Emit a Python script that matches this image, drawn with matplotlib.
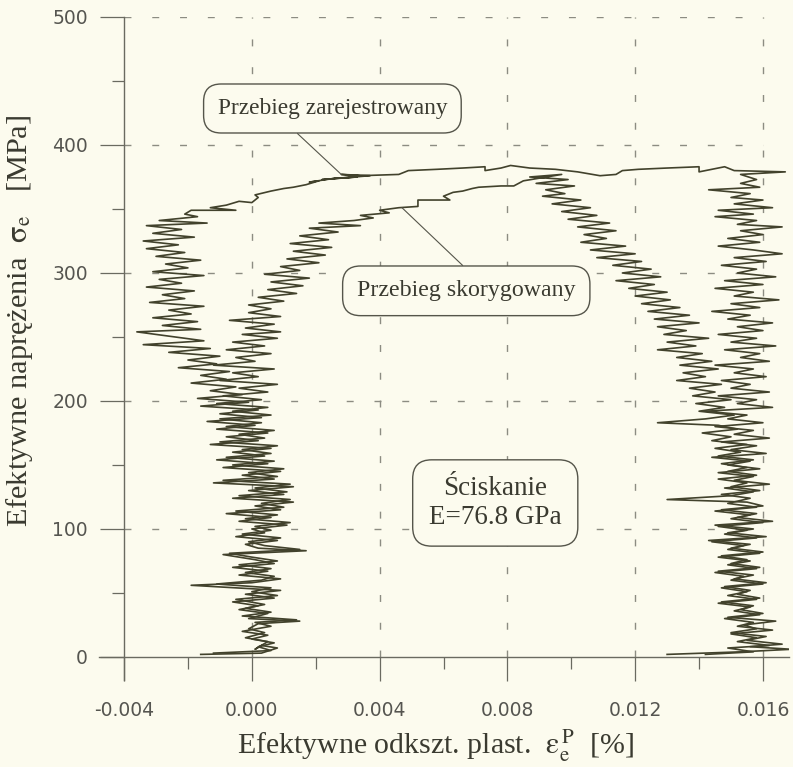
import matplotlib
matplotlib.use("Agg")
import matplotlib.pyplot as plt
from matplotlib.ticker import MultipleLocator, FixedLocator

# --- data (strain x, stress y in MPa) ---
# recorded curve: loading branch
rec_load_x = [-0.0016, 0.0003, 0.0008, 0.0003, 0.0001, 0.0005, -0.0002, 0.0004, -0.0001, 0.0002,
              0.0015, -0.0001, 0.0005, -0.0004, 0.0002, -0.0006, 0.0007, -0.0002, 0.0009, -0.0019,
              0.0000, 0.0009, -0.0004, 0.0005, -0.0006, 0.0007, 0.0001, -0.0009, 0.0017, 0.0002,
              -0.0002, 0.0008, -0.0005, 0.0004, 0.0000, 0.0011, -0.0004, 0.0006, -0.0008, 0.0009,
              0.0001, 0.0013, -0.0006, 0.0010, -0.0001, 0.0013, -0.0012, 0.0007, -0.0003, 0.0009,
              -0.0009, 0.0005, -0.0011, 0.0004, -0.0006, 0.0006, -0.0013, 0.0002, -0.0008, 0.0005,
              -0.0011, 0.0001, -0.0014, 0.0003, -0.0010, 0.0002, -0.0016, -0.0001, -0.0017, -0.0003,
              -0.0013, -0.0005, -0.0019, -0.0008, -0.0016, -0.0007, -0.0023, -0.0011, -0.0020, -0.0010,
              -0.0026, -0.0013, -0.0034, -0.0015, -0.0024, -0.0036, -0.0016, -0.0028, -0.0017, -0.0031,
              -0.0019, -0.0026, -0.0015, -0.0032, -0.0021, -0.0028, -0.0018, -0.0033, -0.0022, -0.0029,
              -0.0015, -0.0031, -0.0020, -0.0027, -0.0016, -0.0030, -0.0021, -0.0033, -0.0023, -0.0034,
              -0.0018, -0.0031, -0.0022, -0.0033, -0.0014, -0.0029, -0.0017, -0.0021, -0.0019, -0.0005,
              -0.0013, -0.0008, -0.0004, 0.0000, 0.0002, 0.0001, 0.0006, 0.0010, 0.0013, 0.0017,
              0.0021, 0.0018, 0.0026, 0.0033, 0.0022, 0.0037, 0.0028]
rec_load_y = [2, 3, 7, 9, 6, 12, 15, 19, 22, 26,
              28, 30, 34, 37, 40, 43, 46, 49, 52, 56,
              58, 61, 64, 67, 70, 73, 76, 80, 83, 85,
              88, 91, 94, 97, 100, 103, 106, 109, 112, 115,
              118, 121, 124, 127, 130, 133, 136, 139, 142, 145,
              148, 151, 154, 157, 160, 163, 166, 169, 172, 175,
              178, 181, 184, 187, 190, 193, 196, 199, 202, 205,
              208, 211, 214, 217, 220, 223, 226, 229, 232, 235,
              238, 241, 244, 247, 250, 254, 256, 259, 262, 265,
              268, 271, 274, 277, 280, 283, 286, 289, 292, 295,
              298, 301, 304, 307, 310, 313, 316, 319, 322, 325,
              328, 331, 334, 337, 339, 341, 344, 346, 349, 349,
              351, 353, 356, 355, 359, 361, 364, 366, 367, 369,
              372, 371, 374, 375, 373, 376, 377]

# recorded curve: upper plateau
rec_top_x = [0.0034, 0.0046, 0.0049, 0.0058, 0.0066, 0.0073, 0.0073, 0.0078, 0.0081, 0.0087,
             0.0095, 0.0102, 0.0109, 0.0114, 0.0116, 0.0121, 0.0130, 0.0140, 0.0140, 0.0148,
             0.0151, 0.0167, 0.0153]
rec_top_y = [376, 377, 380, 381, 382, 383, 380, 382, 384, 382,
             381, 379, 376, 377, 380, 381, 382, 383, 379, 383,
             380, 379, 377]

# recorded curve: unloading branch
rec_unl_x = [0.0158, 0.0153, 0.0159, 0.0143, 0.0156, 0.0150, 0.0160, 0.0151, 0.0163, 0.0146,
             0.0157, 0.0145, 0.0158, 0.0152, 0.0166, 0.0153, 0.0160, 0.0149, 0.0159, 0.0146,
             0.0157, 0.0166, 0.0151, 0.0161, 0.0147, 0.0158, 0.0152, 0.0164, 0.0148, 0.0160,
             0.0145, 0.0157, 0.0151, 0.0165, 0.0150, 0.0159, 0.0144, 0.0156, 0.0149, 0.0163,
             0.0152, 0.0160, 0.0146, 0.0158, 0.0150, 0.0164, 0.0148, 0.0159, 0.0153, 0.0162,
             0.0145, 0.0157, 0.0151, 0.0161, 0.0147, 0.0156, 0.0150, 0.0162, 0.0146, 0.0158,
             0.0152, 0.0163, 0.0142, 0.0155, 0.0149, 0.0160, 0.0145, 0.0157, 0.0151, 0.0162,
             0.0147, 0.0158, 0.0150, 0.0161, 0.0144, 0.0156, 0.0149, 0.0159, 0.0146, 0.0157,
             0.0151, 0.0162, 0.0148, 0.0157, 0.0150, 0.0130, 0.0155, 0.0160, 0.0147, 0.0158,
             0.0152, 0.0163, 0.0145, 0.0157, 0.0149, 0.0161, 0.0143, 0.0156, 0.0150, 0.0160,
             0.0147, 0.0155, 0.0150, 0.0159, 0.0146, 0.0157, 0.0151, 0.0161, 0.0148, 0.0156,
             0.0152, 0.0159, 0.0147, 0.0157, 0.0153, 0.0160, 0.0149, 0.0164, 0.0154, 0.0158,
             0.0150, 0.0161, 0.0155, 0.0166, 0.0156, 0.0169, 0.0153, 0.0130]
rec_unl_y = [373, 370, 367, 365, 362, 359, 357, 354, 351, 349,
             346, 344, 341, 338, 336, 333, 330, 327, 324, 321,
             318, 315, 312, 309, 306, 303, 300, 297, 294, 291,
             288, 285, 282, 279, 276, 273, 270, 267, 264, 261,
             258, 255, 252, 249, 246, 243, 240, 237, 234, 231,
             228, 225, 222, 219, 216, 213, 210, 207, 204, 201,
             198, 195, 192, 189, 186, 183, 180, 177, 174, 171,
             168, 165, 162, 159, 156, 153, 150, 147, 144, 141,
             138, 135, 132, 129, 126, 123, 121, 118, 115, 112,
             109, 106, 103, 100, 97, 94, 91, 88, 85, 82,
             79, 76, 73, 70, 67, 64, 61, 58, 55, 52,
             49, 46, 43, 40, 37, 34, 31, 28, 25, 22,
             19, 16, 13, 10, 8, 6, 4, 2]

# corrected curve: loading branch
cor_load_x = [-0.0012, 0.0006, 0.0002, 0.0007, 0.0000, 0.0005, -0.0003, 0.0006, 0.0001, 0.0014,
              -0.0003, 0.0006, -0.0002, 0.0004, -0.0005, 0.0008, 0.0000, 0.0006, -0.0011, 0.0003,
              0.0007, -0.0002, 0.0006, -0.0004, 0.0008, 0.0000, -0.0007, 0.0015, 0.0004, -0.0001,
              0.0009, -0.0003, 0.0006, 0.0001, 0.0012, -0.0002, 0.0008, -0.0005, 0.0010, 0.0003,
              0.0012, -0.0004, 0.0011, 0.0001, 0.0012, -0.0009, 0.0008, -0.0001, 0.0010, -0.0006,
              0.0007, -0.0008, 0.0006, -0.0003, 0.0008, -0.0010, 0.0004, -0.0004, 0.0007, -0.0008,
              0.0003, -0.0010, 0.0006, -0.0006, 0.0005, -0.0011, 0.0003, -0.0009, 0.0005, -0.0004,
              0.0008, -0.0010, 0.0002, -0.0006, 0.0007, -0.0012, 0.0001, -0.0005, 0.0006, -0.0008,
              0.0004, -0.0006, 0.0008, -0.0003, 0.0009, -0.0002, 0.0007, -0.0007, 0.0009, -0.0001,
              0.0006, -0.0001, 0.0010, 0.0002, 0.0014, 0.0005, 0.0016, 0.0006, 0.0018, 0.0004,
              0.0015, 0.0009, 0.0021, 0.0011, 0.0023, 0.0013, 0.0025, 0.0012, 0.0024, 0.0015,
              0.0027, 0.0018, 0.0034, 0.0021, 0.0032, 0.0038, 0.0034, 0.0043, 0.0040, 0.0046,
              0.0052, 0.0052, 0.0062, 0.0060, 0.0063, 0.0066, 0.0069, 0.0071, 0.0078, 0.0082]
cor_load_y = [3, 5, 8, 11, 14, 17, 20, 24, 27, 29,
              32, 35, 38, 41, 45, 48, 51, 54, 57, 60,
              63, 66, 69, 72, 75, 78, 81, 84, 87, 90,
              93, 96, 99, 102, 105, 108, 111, 114, 117, 120,
              123, 126, 129, 132, 135, 138, 141, 144, 147, 150,
              153, 156, 159, 162, 165, 168, 171, 174, 177, 180,
              183, 186, 189, 192, 195, 198, 201, 204, 207, 210,
              213, 216, 219, 222, 225, 228, 231, 234, 237, 240,
              243, 246, 249, 252, 254, 257, 260, 263, 266, 269,
              272, 275, 278, 281, 284, 287, 290, 293, 296, 299,
              302, 305, 308, 311, 314, 317, 320, 323, 326, 329,
              332, 335, 337, 339, 341, 343, 345, 347, 349, 351,
              352, 357, 357, 360, 363, 364, 366, 367, 368, 368]

# corrected curve: unloading branch
cor_unl_x = [0.0085, 0.0097, 0.0087, 0.0099, 0.0089, 0.0101, 0.0092, 0.0098, 0.0091, 0.0103,
             0.0094, 0.0106, 0.0097, 0.0108, 0.0099, 0.0112, 0.0102, 0.0114, 0.0104, 0.0111,
             0.0103, 0.0117, 0.0106, 0.0120, 0.0108, 0.0122, 0.0113, 0.0125, 0.0116, 0.0128,
             0.0114, 0.0126, 0.0118, 0.0130, 0.0120, 0.0131, 0.0122, 0.0134, 0.0124, 0.0137,
             0.0126, 0.0140, 0.0127, 0.0136, 0.0129, 0.0143, 0.0130, 0.0139, 0.0127, 0.0141,
             0.0133, 0.0144, 0.0134, 0.0146, 0.0135, 0.0142, 0.0133, 0.0147, 0.0137, 0.0145,
             0.0138, 0.0150, 0.0139, 0.0148, 0.0140, 0.0151, 0.0142, 0.0127, 0.0146, 0.0152,
             0.0141, 0.0150, 0.0144, 0.0155, 0.0145, 0.0153, 0.0146, 0.0157, 0.0147, 0.0155,
             0.0149, 0.0158, 0.0146, 0.0155, 0.0150, 0.0159, 0.0147, 0.0156, 0.0149, 0.0158,
             0.0145, 0.0156, 0.0150, 0.0160, 0.0146, 0.0155, 0.0148, 0.0158, 0.0144, 0.0154,
             0.0149, 0.0159, 0.0146, 0.0156, 0.0149, 0.0158, 0.0145, 0.0154, 0.0150, 0.0160,
             0.0147, 0.0155, 0.0149, 0.0158, 0.0146, 0.0156, 0.0151, 0.0159, 0.0148, 0.0157,
             0.0152, 0.0163, 0.0150, 0.0158, 0.0152, 0.0162, 0.0149, 0.0157, 0.0142]
cor_unl_y = [372, 377, 375, 373, 370, 368, 365, 362, 360, 357,
             354, 351, 348, 345, 342, 339, 336, 333, 330, 327,
             324, 321, 318, 315, 312, 309, 306, 303, 300, 297,
             294, 291, 288, 285, 282, 279, 276, 273, 270, 267,
             264, 261, 258, 255, 252, 249, 246, 243, 240, 237,
             234, 231, 228, 225, 222, 219, 216, 213, 210, 207,
             204, 201, 198, 195, 192, 189, 186, 183, 181, 178,
             175, 172, 169, 166, 163, 160, 157, 154, 151, 148,
             145, 142, 139, 136, 133, 130, 127, 124, 120, 117,
             114, 111, 108, 105, 102, 99, 96, 93, 90, 87,
             84, 81, 78, 75, 72, 69, 66, 63, 60, 57,
             54, 51, 48, 45, 42, 39, 36, 33, 30, 27,
             24, 21, 18, 15, 12, 9, 7, 4, 2]

x_major = [-0.004, 0.000, 0.004, 0.008, 0.012, 0.016]
x_labels = ['-0.004', '0.000', '0.004', '0.008', '0.012', '0.016']
y_major = [0, 100, 200, 300, 400, 500]

bg = '#fcfbee'
ink = '#42422c'
grey = '#8c8c82'
txt = '#3a3a30'

plt.rcParams['mathtext.fontset'] = 'stix'

fig = plt.figure(figsize=(7.93, 7.67), dpi=100, facecolor=bg)
ax = fig.add_axes([98.5 / 793, 87 / 767, 690 / 793, 663 / 767], facecolor=bg)
ax.set_xlim(-0.0048, 0.0168)
ax.set_ylim(-18, 500)

# dashed grid, only inside the -0.004..0.016 / 0..500 box
ax.hlines(y_major[1:], -0.004, 0.016, colors=grey, lw=1, linestyles=(0, (5, 15)), zorder=1)
ax.vlines(x_major[1:], 0, 500, colors=grey, lw=1, linestyles=(0, (5, 15)), zorder=1)

ax.plot(rec_load_x + rec_top_x + rec_unl_x, rec_load_y + rec_top_y + rec_unl_y,
        color=ink, lw=1.2, zorder=3)
ax.plot(cor_load_x + cor_unl_x, cor_load_y + cor_unl_y, color=ink, lw=1.2, zorder=3)

# axes: left at x=-0.004, bottom at y=0
for s in ['top', 'right']:
    ax.spines[s].set_visible(False)
ax.spines['left'].set_position(('data', -0.004))
ax.spines['bottom'].set_position(('data', 0))
for s in ['left', 'bottom']:
    ax.spines[s].set_color('#6a6a60')
    ax.spines[s].set_linewidth(1.0)

ax.xaxis.set_major_locator(FixedLocator(x_major))
ax.set_xticklabels(x_labels)
ax.xaxis.set_minor_locator(MultipleLocator(0.002))
ax.yaxis.set_major_locator(FixedLocator(y_major))
ax.yaxis.set_minor_locator(MultipleLocator(50))
ax.tick_params(which='major', direction='out', length=17, width=0.9, color='#6a6a60',
               labelsize=13.5, labelcolor='#555550')
ax.tick_params(which='minor', direction='out', length=8.5, width=0.9, color='#6a6a60')
ax.tick_params(axis='x', which='major', pad=15)
ax.tick_params(axis='y', which='major', pad=9)
for t in ax.get_xticklabels() + ax.get_yticklabels():
    t.set_fontfamily('DejaVu Sans')

serif = 'Liberation Serif'
fig.text(0.549, 0.027,
         r'Efektywne odkszt. plast.  $\mathrm{\varepsilon}_{\mathrm{e}}^{\,\mathrm{P}}$  [%]',
         ha='center', va='center', fontsize=21.5, family=serif, color=txt)
fig.text(0.025, 0.581, r'Efektywne naprężenia  $\mathrm{\sigma}_{\mathrm{e}}$   [MPa]',
         ha='center', va='center', rotation=90, fontsize=21.8, family=serif, color=txt)

box = dict(boxstyle='round,pad=0.6,rounding_size=0.75', fc=bg, ec='#55554a', lw=1.0)
ax.annotate('Przebieg zarejestrowany', xy=(0.0028, 377), xycoords='data',
            xytext=(0.339, 0.862), textcoords='axes fraction', ha='center', va='center',
            fontsize=16.8, family=serif, color=txt, bbox=box,
            arrowprops=dict(arrowstyle='-', color='#55554a', lw=0.8, relpos=(0.28, 0),
                            shrinkA=0, shrinkB=0), zorder=5)
ax.annotate('Przebieg skorygowany', xy=(0.0047, 351), xycoords='data',
            xytext=(0.533, 0.587), textcoords='axes fraction', ha='center', va='center',
            fontsize=17.2, family=serif, color=txt, bbox=box,
            arrowprops=dict(arrowstyle='-', color='#55554a', lw=0.8, relpos=(0.555, 1),
                            shrinkA=0, shrinkB=0), zorder=5)
ax.text(0.575, 0.267, 'Ściskanie\nE=76.8 GPa', transform=ax.transAxes, ha='center',
        va='center', fontsize=19.5, family=serif, color=txt, linespacing=1.2,
        bbox=dict(boxstyle='round,pad=0.6,rounding_size=0.7', fc=bg, ec='#55554a', lw=1.0),
        zorder=5)

fig.savefig('out.png', dpi=100, facecolor=bg)
